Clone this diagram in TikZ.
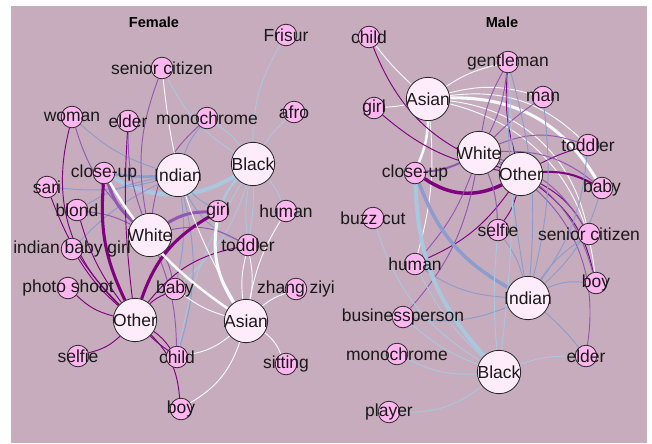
\documentclass[tikz,border=0pt]{standalone}
\usepackage{fontspec}
\setmainfont{Liberation Sans}

\definecolor{panelbg}{RGB}{199,172,189}
\definecolor{tagpink}{RGB}{255,182,240}
\definecolor{racepink}{RGB}{255,236,251}
\definecolor{asiancol}{RGB}{246,250,252}
\definecolor{blackcol}{RGB}{168,200,224}
\definecolor{indiancol}{RGB}{140,156,206}
\definecolor{whitecol}{RGB}{145,88,178}
\definecolor{othercol}{RGB}{128,0,128}

\pgfdeclarelayer{back}
\pgfdeclarelayer{edges}
\pgfsetlayers{back,edges,main}

\tikzset{
    tag/.style={draw=black!85, circle, fill=tagpink, minimum size=16.2pt, inner sep=0pt, line width=0.6pt},
    race/.style={draw=black!85, circle, fill=racepink, minimum size=32.5pt, inner sep=0pt, line width=0.6pt},
    word/.style={font=\fontsize{13.1}{15}\selectfont, text=black!90, inner sep=0pt},
    title/.style={font=\bfseries\fontsize{10.9}{13}\selectfont},
    eAsian/.style={draw=asiancol, line width=0.7pt},
    eBlack/.style={draw=blackcol, line width=0.7pt},
    eIndian/.style={draw=indiancol, line width=0.7pt},
    eWhite/.style={draw=whitecol, line width=0.7pt},
    eOther/.style={draw=othercol, line width=0.7pt},
}

\begin{document}
\begin{tikzpicture}[x=0.75pt, y=-0.75pt]
        \useasboundingbox (0,0) rectangle (652,443);

        % Titles
        \node[title] (ftitle) at (154,22) {Female};
        \node[title] (mtitle) at (502,22) {Male};

        % Draw the race nodes (female)
        \node[race, label={[word]center:Black}] (fBlack) at (253,164) {};
        \node[race, label={[word]center:Indian}] (fIndian) at (178,175) {};
        \node[race, label={[word]center:White}] (fWhite) at (150,235) {};
        \node[race, label={[word]center:Other}] (fOther) at (135,320) {};
        \node[race, label={[word]center:Asian}] (fAsian) at (246,321) {};

        % Draw the tag nodes (female)
        \node[tag, label={[word]center:Frisur}] (fFrisur) at (286,35) {};
        \node[tag, label={[word]center:senior citizen}] (fsenior) at (162,68) {};
        \node[tag, label={[word]center:woman}] (fwoman) at (72,117) {};
        \node[tag, label={[word]center:elder}] (felder) at (128,121) {};
        \node[tag, label={[word]center:monochrome}] (fmono) at (207,118) {};
        \node[tag, label={[word]center:afro}] (fafro) at (294,112) {};
        \node[tag, label={[word]center:close-up}] (fcloseup) at (104,173) {};
        \node[tag, label={[word]center:sari}] (fsari) at (47,187) {};
        \node[tag, label={[word]center:blond}] (fblond) at (77,210) {};
        \node[tag, label={[word]center:girl}] (fgirl) at (218,211) {};
        \node[tag, label={[word]center:human}] (fhuman) at (286,211) {};
        \node[tag, label={[word]center:indian baby girl}] (fibg) at (72,249) {};
        \node[tag, label={[word]center:toddler}] (ftoddler) at (248,245) {};
        \node[tag, label={[word]center:photo shoot}] (fphoto) at (68,288) {};
        \node[tag, label={[word]center:baby}] (fbaby) at (175,289) {};
        \node[tag, label={[word]center:zhang ziyi}] (fzhang) at (296,289) {};
        \node[tag, label={[word]center:selfie}] (fselfie) at (78,356) {};
        \node[tag, label={[word]center:child}] (fchild) at (177,357) {};
        \node[tag, label={[word]center:sitting}] (fsitting) at (286,364) {};
        \node[tag, label={[word]center:boy}] (fboy) at (181,409) {};

        % Draw the race nodes (male)
        \node[race, label={[word]center:Asian}] (mAsian) at (428,99) {};
        \node[race, label={[word]center:White}] (mWhite) at (479,153) {};
        \node[race, label={[word]center:Other}] (mOther) at (521,174) {};
        \node[race, label={[word]center:Indian}] (mIndian) at (528,298) {};
        \node[race, label={[word]center:Black}] (mBlack) at (499,372) {};

        % Draw the tag nodes (male)
        \node[tag, label={[word]center:child}] (mchild) at (369,37) {};
        \node[tag, label={[word]center:gentleman}] (mgentleman) at (508,62) {};
        \node[tag, label={[word]center:man}] (mman) at (543,97) {};
        \node[tag, label={[word]center:girl}] (mgirl) at (374,108) {};
        \node[tag, label={[word]center:toddler}] (mtoddler) at (588,145) {};
        \node[tag, label={[word]center:close-up}] (mcloseup) at (415,173) {};
        \node[tag, label={[word]center:baby}] (mbaby) at (602,188) {};
        \node[tag, label={[word]center:buzz cut}] (mbuzz) at (373,218) {};
        \node[tag, label={[word]center:selfie}] (mselfie) at (498,230) {};
        \node[tag, label={[word]center:senior citizen}] (msenior) at (589,234) {};
        \node[tag, label={[word]center:human}] (mhuman) at (415,264) {};
        \node[tag, label={[word]center:boy}] (mboy) at (596,283) {};
        \node[tag, label={[word]center:businessperson}] (mbusiness) at (403,317) {};
        \node[tag, label={[word]center:monochrome}] (mmono) at (397,354) {};
        \node[tag, label={[word]center:elder}] (melder) at (586,356) {};
        \node[tag, label={[word]center:player}] (mplayer) at (389,412) {};

        % Panel background
        \begin{pgfonlayer}{back}
            \fill[panelbg] (11,6) rectangle (647,443);
        \end{pgfonlayer}

        \begin{pgfonlayer}{edges}
        % Female: Black
        \draw[eBlack] (fBlack) to[bend left=15] (fFrisur);
        \draw[eBlack] (fBlack) to[bend left=8] (fafro);
        \draw[eBlack] (fBlack) to[bend left=15] (fsenior);
        \draw[eBlack] (fBlack) to[bend right=10] (fmono);
        \draw[eBlack, line width=3pt] (fBlack) to[bend left=30] (fcloseup);
        \draw[eBlack, line width=1.9pt] (fBlack) to[bend right=10] (fgirl);
        \draw[eBlack] (fBlack) to[bend left=10] (fhuman);
        \draw[eBlack] (fBlack) to[bend right=8] (ftoddler);
        \draw[eBlack] (fBlack) to[bend left=5] (ftoddler);
        \draw[eBlack] (fBlack) to[bend right=10] (fchild);
        \draw[eBlack] (fBlack) to[bend left=15] (fbaby);

        % Female: Indian
        \draw[eIndian] (fIndian) to[bend left=12] (fwoman);
        \draw[eIndian, line width=1.9pt] (fIndian) to[bend left=5] (fcloseup);
        \draw[eIndian] (fIndian) to[bend left=10] (fsari);
        \draw[eIndian] (fIndian) to[bend right=10] (fibg);
        \draw[eIndian] (fIndian) to[bend right=10] (fgirl);
        \draw[eIndian] (fIndian) to[bend right=20] (ftoddler);
        \draw[eIndian] (fIndian) to[bend left=10] (fbaby);
        \draw[eIndian] (fIndian) to[bend left=15] (fchild);
        \draw[eIndian] (fIndian) to[bend right=10] (fblond);
        \draw[eIndian] (fIndian) to[bend left=10] (fmono);

        % Female: White
        \draw[eWhite, line width=2.3pt] (fWhite) to[bend left=15] (fcloseup);
        \draw[eWhite, line width=2.3pt] (fWhite) to[bend left=15] (fgirl);
        \draw[eWhite] (fWhite) to[bend left=10] (felder);
        \draw[eWhite] (fWhite) to[bend left=15] (fwoman);
        \draw[eWhite] (fWhite) to[bend left=15] (fsenior);
        \draw[eWhite] (fWhite) to[bend left=20] (fmono);
        \draw[eWhite] (fWhite) to[bend left=20] (ftoddler);
        \draw[eWhite] (fWhite) to[bend left=10] (fchild);
        \draw[eWhite] (fWhite) to[bend right=10] (fblond);
        \draw[eWhite] (fWhite) to[bend left=10] (fbaby);

        % Female: Other
        \draw[eOther] (fOther) to[bend left=30] (fwoman);
        \draw[eOther, line width=2.3pt] (fOther) to[bend left=15] (fcloseup);
        \draw[eOther, line width=2.3pt] (fOther) to[bend left=20] (fgirl);
        \draw[eOther] (fOther) to[bend left=12] (fsari);
        \draw[eOther] (fOther) to[bend left=10] (fblond);
        \draw[eOther] (fOther) to[bend left=8] (fibg);
        \draw[eOther] (fOther) to[bend left=15] (fphoto);
        \draw[eOther] (fOther) to[bend left=15] (fselfie);
        \draw[eOther] (fOther) to[bend left=10] (fchild);
        \draw[eOther] (fOther) to[bend right=5] (fchild);
        \draw[eOther] (fOther) to[bend left=20] (fboy);
        \draw[eOther] (fOther) to[bend left=20] (ftoddler);
        \draw[eOther] (fOther) to[bend left=10] (fbaby);
        \draw[eOther] (fOther) to[bend left=5] (felder);

        % Female: Asian
        \draw[eAsian, line width=1.9pt] (fAsian) to[bend left=12] (fcloseup);
        \draw[eAsian, line width=2.3pt] (fAsian) to[bend left=20] (fgirl);
        \draw[eAsian] (fAsian) to[bend left=12] (fsenior);
        \draw[eAsian] (fAsian) to[bend right=10] (ftoddler);
        \draw[eAsian] (fAsian) to[bend left=10] (ftoddler);
        \draw[eAsian] (fAsian) to[bend left=10] (fhuman);
        \draw[eAsian] (fAsian) to[bend left=10] (fzhang);
        \draw[eAsian] (fAsian) to[bend left=15] (fsitting);
        \draw[eAsian] (fAsian) to[bend left=15] (fchild);
        \draw[eAsian] (fAsian) to[bend left=20] (fboy);
        \draw[eAsian] (fAsian) to[bend left=10] (fbaby);

        % Male: Asian
        \draw[eAsian] (mAsian) to[bend left=5] (mchild);
        \draw[eAsian] (mAsian) to[bend left=10] (mgentleman);
        \draw[eAsian] (mAsian) to[bend left=5] (mgirl);
        \draw[eAsian, line width=1.9pt] (mAsian) to[bend left=10] (mcloseup);
        \draw[eAsian] (mAsian) to[bend left=15] (mman);
        \draw[eAsian] (mAsian) to[bend left=25] (mtoddler);
        \draw[eAsian, line width=2.3pt] (mAsian) to[bend left=30] (mbaby);
        \draw[eAsian] (mAsian) to[bend left=35] (msenior);
        \draw[eAsian] (mAsian) to[bend left=35] (mboy);
        \draw[eAsian] (mAsian) to[bend left=10] (mhuman);

        % Male: Other
        \draw[eOther] (mOther) to[bend left=25] (mchild);
        \draw[eOther] (mOther) to[bend left=15] (mgirl);
        \draw[eOther, line width=2.6pt] (mOther) to[bend left=30] (mcloseup);
        \draw[eOther] (mOther) to[bend left=10] (mgentleman);
        \draw[eOther, line width=1.5pt] (mOther) to[bend left=15] (mbaby);
        \draw[eOther] (mOther) to[bend left=5] (mtoddler);
        \draw[eOther] (mOther) to[bend left=10] (mselfie);
        \draw[eOther] (mOther) to[bend left=15] (mhuman);
        \draw[eOther] (mOther) to[bend left=15] (msenior);
        \draw[eOther] (mOther) to[bend left=20] (mboy);

        % Male: White
        \draw[eWhite, line width=1.5pt] (mWhite) to[bend left=10] (mcloseup);
        \draw[eWhite] (mWhite) to[bend left=10] (mgentleman);
        \draw[eWhite] (mWhite) to[bend right=10] (mgentleman);
        \draw[eWhite] (mWhite) to[bend left=5] (mman);
        \draw[eWhite] (mWhite) to[bend left=20] (mtoddler);
        \draw[eWhite] (mWhite) to[bend left=20] (mbaby);
        \draw[eWhite] (mWhite) to[bend left=10] (mselfie);
        \draw[eWhite] (mWhite) to[bend left=10] (mhuman);
        \draw[eWhite] (mWhite) to[bend left=15] (mbusiness);
        \draw[eWhite] (mWhite) to[bend left=20] (msenior);
        \draw[eWhite] (mWhite) to[bend left=35] (melder);
        \draw[eWhite] (mWhite) to[bend left=25] (mboy);

        % Male: Indian
        \draw[eIndian, line width=2.6pt] (mIndian) to[bend left=20] (mcloseup);
        \draw[eIndian] (mIndian) to[bend right=10] (mgentleman);
        \draw[eIndian] (mIndian) to[bend left=5] (mgentleman);
        \draw[eIndian] (mIndian) to[bend right=10] (mman);
        \draw[eIndian] (mIndian) to[bend right=10] (mselfie);
        \draw[eIndian] (mIndian) to[bend left=10] (msenior);
        \draw[eIndian] (mIndian) to[bend left=15] (mboy);
        \draw[eIndian] (mIndian) to[bend right=15] (mtoddler);
        \draw[eIndian] (mIndian) to[bend right=15] (mbaby);
        \draw[eIndian] (mIndian) to[bend left=5] (melder);
        \draw[eIndian] (mIndian) to[bend left=15] (mbusiness);
        \draw[eIndian] (mIndian) to[bend left=15] (mhuman);

        % Male: Black
        \draw[eBlack, line width=3pt] (mBlack) to[bend left=20] (mcloseup);
        \draw[eBlack] (mBlack) to[bend left=20] (mbuzz);
        \draw[eBlack] (mBlack) to[bend left=10] (mhuman);
        \draw[eBlack] (mBlack) to[bend left=10] (mbusiness);
        \draw[eBlack] (mBlack) to[bend left=15] (mmono);
        \draw[eBlack] (mBlack) to[bend left=20] (mplayer);
        \draw[eBlack] (mBlack) to[bend left=10] (melder);
        \draw[eBlack] (mBlack) to[bend right=5] (mgentleman);
        \draw[eBlack] (mBlack) to[bend left=5] (mselfie);
        \end{pgfonlayer}

    \end{tikzpicture}
\end{document}
